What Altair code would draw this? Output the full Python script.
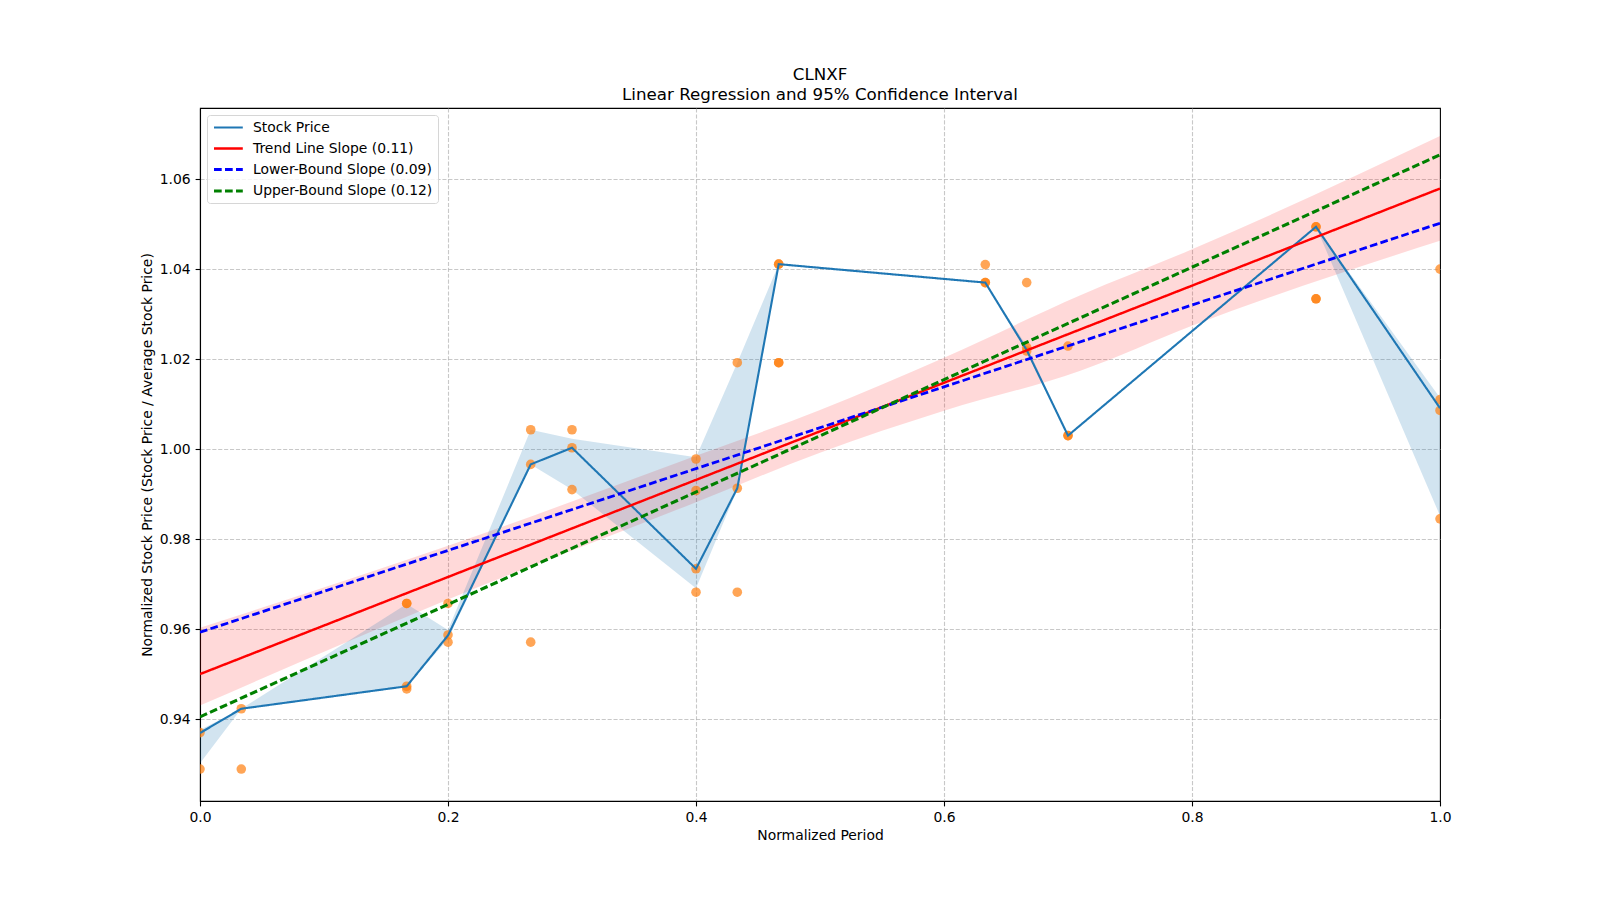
import altair as alt
import pandas as pd

# ---- stock price line (per normalized period) with its band ----
period = [0.0, 0.0333, 0.1667, 0.2, 0.2667, 0.3, 0.4, 0.4333, 0.4667, 0.6333, 0.6667, 0.7, 0.9, 1.0]
price = [0.9369, 0.9423, 0.9473, 0.9586, 0.9966, 1.0003, 0.9734, 0.9913, 1.0411, 1.0370, 1.0220, 1.0030, 1.0494, 1.0091]
price_lo = [0.9302, 0.9423, 0.9473, 0.9578, 0.9966, 0.9910, 0.9691, 0.9911, 1.0411, 1.0370, 1.0215, 1.0030, 1.0494, 0.9852]
price_hi = [0.9376, 0.9423, 0.9656, 0.9598, 1.0043, 1.0023, 0.9982, 1.0192, 1.0411, 1.0370, 1.0229, 1.0030, 1.0494, 1.0114]

# ---- scatter observations ----
obs_x = [0.0, 0.0, 0.0333, 0.0333,
         0.1667, 0.1667, 0.1667, 0.1667, 0.2, 0.2, 0.2,
         0.2667, 0.2667, 0.2667, 0.3, 0.3, 0.3,
         0.4, 0.4, 0.4, 0.4, 0.4333, 0.4333, 0.4333,
         0.4667, 0.4667, 0.4667, 0.4667,
         0.6333, 0.6333, 0.6333, 0.6667, 0.6667, 0.6667,
         0.7, 0.7, 0.7, 0.9, 0.9, 0.9, 0.9,
         1.0, 1.0, 1.0, 1.0]
obs_y = [0.9370, 0.9289, 0.9423, 0.9289,
         0.9657, 0.9657, 0.9473, 0.9467, 0.9657, 0.9587, 0.9571,
         1.0043, 0.9966, 0.9571, 1.0043, 1.0003, 0.9910,
         0.9978, 0.9908, 0.9734, 0.9682, 1.0192, 0.9913, 0.9682,
         1.0411, 1.0411, 1.0192, 1.0192,
         1.0410, 1.0370, 1.0370, 1.0370, 1.0226, 1.0218,
         1.0229, 1.0030, 1.0030, 1.0494, 1.0494, 1.0334, 1.0334,
         1.0400, 1.0110, 1.0086, 0.9845]

# ---- regression lines (values at x = 0 and x = 1) ----
reg_x = [0.0, 1.0]
trend_y = [0.9500, 1.0579]
lower_y = [0.9593, 1.0502]
upper_y = [0.9405, 1.0654]

# ---- regression confidence band ----
ci_x = [0.0, 0.2, 0.4, 0.5, 0.6, 0.71, 0.8, 1.0]
ci_lo = [0.9430, 0.9666, 0.9882, 0.9992, 1.0085, 1.0174, 1.0274, 1.0463]
ci_hi = [0.9603, 0.9785, 0.9985, 1.0087, 1.0203, 1.0342, 1.0444, 1.0696]

series_names = ["Stock Price", "Trend Line Slope (0.11)",
                "Lower-Bound Slope (0.09)", "Upper-Bound Slope (0.12)"]
series_colors = ["#1f77b4", "#ff0000", "#0000ff", "#008000"]
series_dash = [[1, 0], [1, 0], [7.7, 3.3], [7.7, 3.3]]
series_width = [2.1, 3.1, 2.1, 2.1]

x_ticks = [0.0, 0.2, 0.4, 0.6, 0.8, 1.0]
y_ticks = [0.94, 0.96, 0.98, 1.00, 1.02, 1.04, 1.06]

# ---- tables ----
lines_rows = []
for xv, yv in zip(period, price):
    lines_rows.append({"x": xv, "y": yv, "series": series_names[0]})
for name, ys in zip(series_names[1:], [trend_y, lower_y, upper_y]):
    for xv, yv in zip(reg_x, ys):
        lines_rows.append({"x": xv, "y": yv, "series": name})
lines_df = pd.DataFrame(lines_rows)
price_band_df = pd.DataFrame({"x": period, "lo": price_lo, "hi": price_hi})
obs_df = pd.DataFrame({"x": obs_x, "y": obs_y})
ci_df = pd.DataFrame({"x": ci_x, "lo": ci_lo, "hi": ci_hi})

xscale = alt.Scale(domain=[0, 1], nice=False, zero=False)
yscale = alt.Scale(domain=[0.9218, 1.0758], nice=False, zero=False)
edge_grid = {"condition": {"test": "datum.value <= 0 || datum.value >= 1", "value": 0}, "value": 0.7}
xaxis = alt.Axis(values=x_ticks, format=".1f", title="Normalized Period", grid=True,
                 labelFlush=False, gridOpacity=edge_grid)
yaxis = alt.Axis(values=y_ticks, format=".2f",
                 title="Normalized Stock Price (Stock Price / Average Stock Price)", grid=True,
                 labelFlush=False)


def X(field="x"):
    return alt.X(f"{field}:Q", scale=xscale, axis=xaxis)


def Y(field):
    return alt.Y(f"{field}:Q", scale=yscale, axis=yaxis)


legend = alt.Legend(
    title=None, orient="none", legendX=7, legendY=7,
    symbolType="M-1,0H3.8", symbolSize=144, labelOffset=25,
    padding=5, rowPadding=6, strokeColor="#d6d6d6",
    fillColor="rgba(255,255,255,0.8)", cornerRadius=3,
    labelFontSize=13.9, labelFont="DejaVu Sans", labelColor="black", labelLimit=0,
)

ci_band = alt.Chart(ci_df).mark_area(color="#ff0000", opacity=0.15, interpolate="monotone").encode(
    x=X(), y=Y("lo"), y2="hi:Q"
)
price_band = alt.Chart(price_band_df).mark_area(color="#1f77b4", opacity=0.2).encode(
    x=X(), y=Y("lo"), y2="hi:Q"
)
points = alt.Chart(obs_df).mark_circle(color="#ff7f0e", opacity=0.7, size=92, clip=True).encode(
    x=X(), y=Y("y")
)

line_layers = []
for name in series_names:
    line_layers.append(
        alt.Chart(lines_df).transform_filter(alt.datum.series == name).mark_line(clip=True).encode(
            x=X(), y=Y("y"),
            color=alt.Color("series:N", scale=alt.Scale(domain=series_names, range=series_colors),
                            legend=legend, title=None),
            strokeDash=alt.StrokeDash("series:N", scale=alt.Scale(domain=series_names, range=series_dash),
                                      legend=legend, title=None),
            strokeWidth=alt.StrokeWidth("series:O", scale=alt.Scale(domain=series_names, range=series_width),
                                        legend=legend, title=None),
        )
    )

chart = alt.layer(ci_band, price_band, points, *line_layers).properties(
    width=1240, height=693,
    title=alt.TitleParams(
        text=["CLNXF", "Linear Regression and 95% Confidence Interval"],
        fontSize=16.7, font="DejaVu Sans", fontWeight="normal", color="black",
        lineHeight=20.5, offset=4, anchor="middle",
    ),
    autosize=alt.AutoSizeParams(type="none"),
    padding={"left": 192, "top": 100, "right": 100, "bottom": 50},
).configure_view(
    stroke="black", strokeWidth=1.1
).configure_axis(
    domainColor="black", domainWidth=1.1, tickColor="black", tickSize=4.9, tickWidth=1.1,
    labelFont="DejaVu Sans", labelFontSize=13.9, labelColor="black", labelPadding=4.9,
    titleFont="DejaVu Sans", titleFontSize=13.9, titleFontWeight="normal", titleColor="black",
    gridColor="#b0b0b0", gridDash=[4.1, 1.8], gridWidth=1.1,
).configure_axisX(titlePadding=4).configure_axisY(titlePadding=5, gridOpacity=0.7)

chart.save("out.html", embed_options={"renderer": "svg", "actions": False})
